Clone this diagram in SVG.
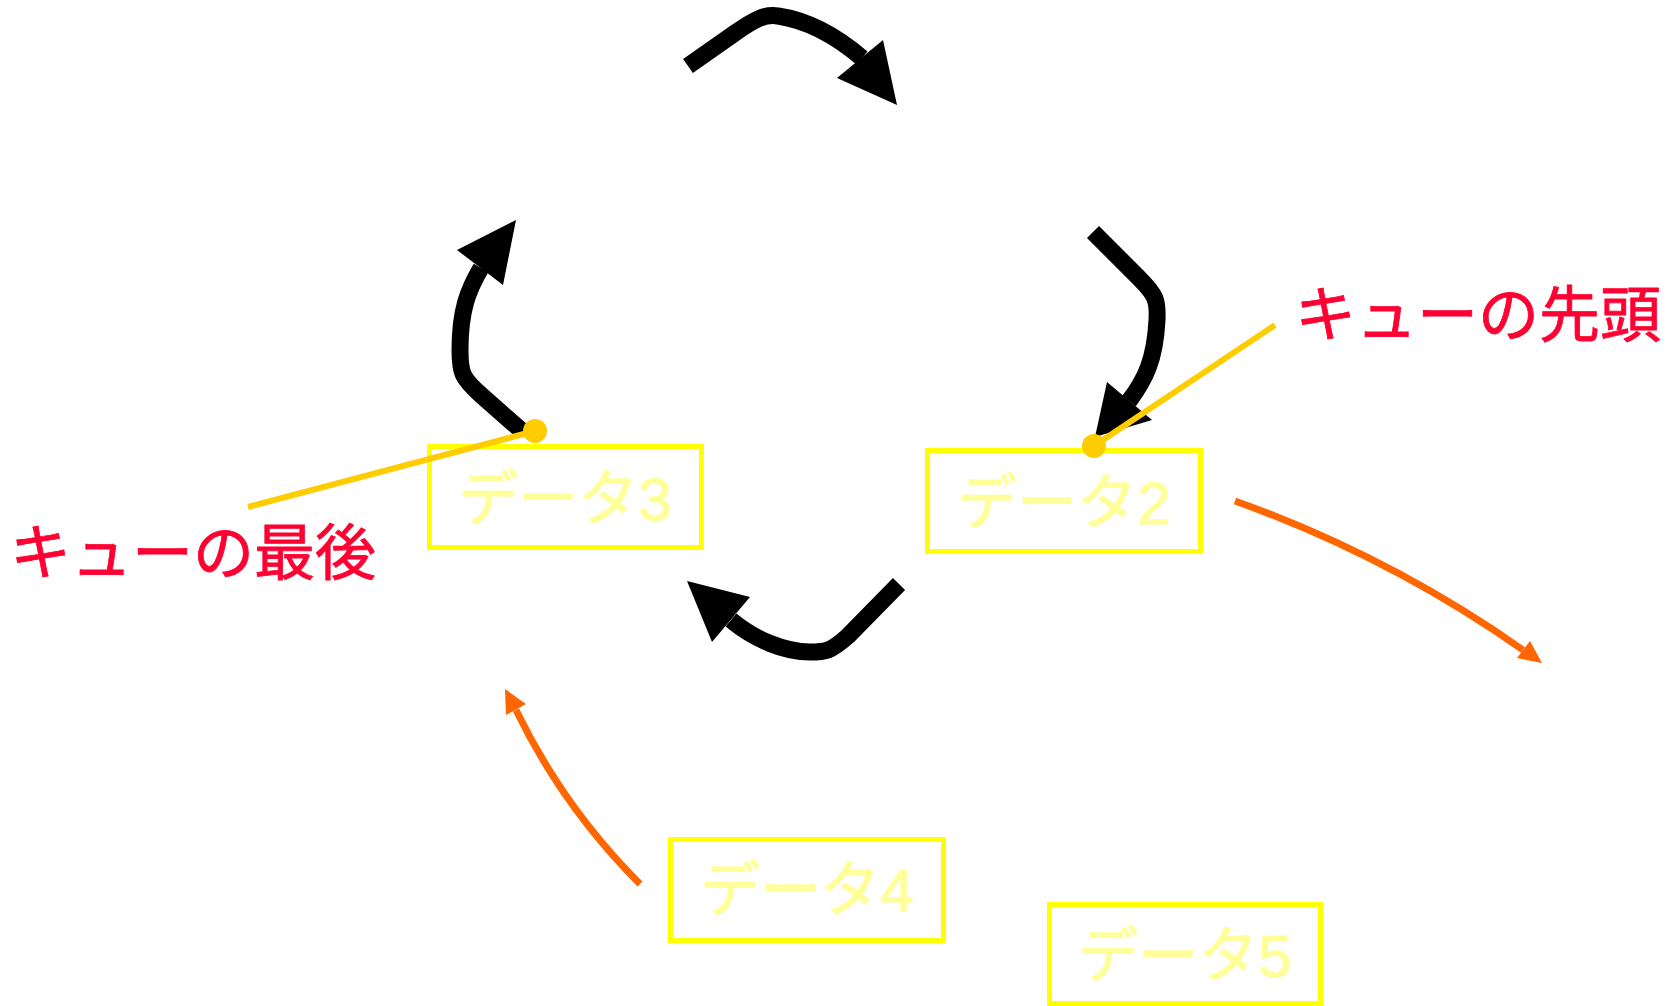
<svg xmlns="http://www.w3.org/2000/svg" width="1674" height="1006" viewBox="0 0 1674 1006">
<style>
.box{fill:none;stroke:#FFFF00;stroke-width:5}
.dt{fill:#FFFF99;stroke:#FFFF99;stroke-width:1.2;font-family:"Liberation Sans","Noto Sans CJK JP",sans-serif;font-size:60px;text-anchor:middle}
.lbl{fill:#FF0033;stroke:#FF0033;stroke-width:0.8;font-family:"Noto Sans CJK JP",sans-serif;font-size:61px}
.blk{fill:none;stroke:#000;stroke-width:17;stroke-linejoin:round}
.blkh{fill:#000}
.org{fill:none;stroke:#FF6600;stroke-width:7}
.orgh{fill:#FF6600}
.ptr{stroke:#FFCC00;stroke-width:6;fill:none}
.dot{fill:#FFCC00}
</style>
<rect width="1674" height="1006" fill="#fff"/>
<g id="connectors">
<path class="blk" d="M688 66 L735 33 C755 19 765 14 778 16 C805 20 835 35 862 58"/>
<polygon class="blkh" points="883,40 897,105 837,78"/>
<path class="blk" d="M1093 232 L1138 277 C1156 295 1158 300 1157 320 C1155 360 1145 380 1129 401"/>
<polygon class="blkh" points="1107,382 1095,437 1152,420"/>
<path class="blk" d="M899 584 L848 636 C830 652 825 652 810 652 C785 652 755 640 731 620"/>
<polygon class="blkh" points="687,581 750,597 712,642"/>
<path class="blk" d="M523 432 L481 395 C462 378 460 373 460 350 C460 310 468 290 481 268"/>
<polygon class="blkh" points="457,250 516,220 503,285"/>
<path class="org" d="M1235 501 Q1389 556 1523 650"/>
<polygon class="orgh" points="1542,663 1530,641 1517,658"/>
<path class="org" d="M640 884 Q563 807 516 710"/>
<polygon class="orgh" points="505,689 526,704 506,715"/>
</g>
<g id="data3"><rect class="box" x="429.5" y="446.5" width="272" height="101"/><text class="dt" x="565" y="520">データ3</text></g>
<g id="data2"><rect class="box" x="927.5" y="450.5" width="273" height="101"/><text class="dt" x="1064" y="524">データ2</text></g>
<g id="data4"><rect class="box" x="670.5" y="839.5" width="273" height="101"/><text class="dt" x="807" y="911">データ4</text></g>
<g id="data5"><rect class="box" x="1049.5" y="904.5" width="271" height="99"/><text class="dt" x="1185" y="977">データ5</text></g>
<g id="tail-label">
<line class="ptr" x1="248" y1="507" x2="535" y2="431"/>
<circle class="dot" cx="535" cy="431" r="12"/>
<text class="lbl" x="10" y="575">キューの最後</text>
</g>
<g id="head-label">
<line class="ptr" x1="1275" y1="325" x2="1094" y2="446"/>
<circle class="dot" cx="1094" cy="446" r="12"/>
<text class="lbl" x="1295" y="337">キューの先頭</text>
</g>
</svg>
